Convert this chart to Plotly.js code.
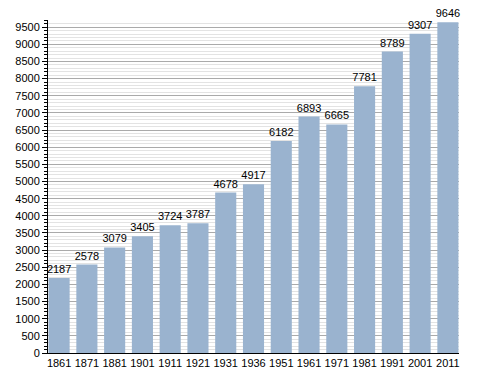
<!DOCTYPE html>
<html><head><meta charset="utf-8">
<script src="https://cdn.plot.ly/plotly-3.0.1.min.js"></script>
<style>body{margin:0;padding:0;background:#fff}#c{width:488px;height:373px}</style>
</head><body><div id="c"></div>
<script>
const years = ["1861","1871","1881","1901","1911","1921","1931","1936","1951","1961","1971","1981","1991","2001","2011"];
const population = [2187,2578,3079,3405,3724,3787,4678,4917,6182,6893,6665,7781,8789,9307,9646];

Plotly.newPlot('c', [{
  type: 'bar',
  x: years,
  y: population,
  text: population.map(String),
  textposition: 'outside',
  constraintext: 'none',
  textfont: {family: 'Liberation Sans, Arial, sans-serif', size: 11, color: '#000'},
  cliponaxis: false,
  marker: {color: '#9ab3cf', line: {width: 0}},
  hoverinfo: 'none'
}], {
  width: 488, height: 373,
  margin: {l: 48, r: 29, t: 20, b: 20, pad: 0},
  paper_bgcolor: '#fff', plot_bgcolor: '#fff',
  bargap: 0.24,
  showlegend: false,
  font: {family: 'Liberation Sans, Arial, sans-serif', size: 11, color: '#000'},
  xaxis: {
    type: 'category', range: [-0.4, 14.4],
    showline: true, linecolor: '#000', linewidth: 1,
    ticks: '', showgrid: false, tickfont: {size: 11}, fixedrange: true
  },
  yaxis: {
    range: [0, 9710], dtick: 500, tick0: 0,
    showline: true, linecolor: '#000', linewidth: 1,
    ticks: 'outside', ticklen: 5, tickcolor: '#000',
    showgrid: true, gridcolor: '#aaaaaa', gridwidth: 1,
    zeroline: false, tickfont: {size: 11},
    minor: {dtick: 100, ticks: 'outside', ticklen: 3, tickcolor: '#000', showgrid: true, gridcolor: '#e3e3e3', gridwidth: 1},
    fixedrange: true
  }
}, {displayModeBar: false, staticPlot: true});
</script>
</body></html>
